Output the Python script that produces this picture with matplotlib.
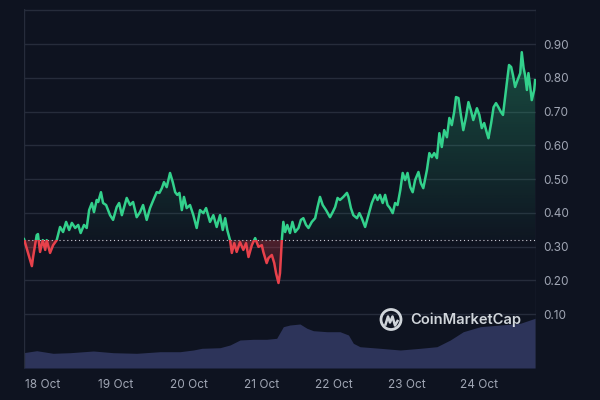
import numpy as np
import matplotlib
matplotlib.use("Agg")
import matplotlib.pyplot as plt
from matplotlib.patches import Rectangle, Circle

# price history (hours after 18 Oct 00:00, price in USD)
hours = [-6.3, -3.7, -3.3, -2.1, -1.7, -1.0, -0.1, 0.7, 1.2, 2.3, 3.3, 4.5, 5.6, 6.6, 7.6, 8.6,
         9.5, 10.6, 11.6, 12.4, 13.5, 14.4, 15.2, 16.1, 16.8, 17.7, 18.2, 19.1, 19.8, 20.8, 22.1,
         23.1, 24.3, 25.1, 26.0, 27.6, 28.7, 29.7, 30.9, 32.0, 33.0, 34.2, 35.3, 36.4, 37.5, 38.4,
         39.2, 39.9, 40.8, 41.9, 42.8, 43.6, 44.3, 45.0, 45.8, 46.5, 47.4, 48.5, 49.6, 50.7, 51.8,
         52.9, 53.8, 55.1, 56.2, 57.3, 58.4, 59.3, 60.1, 60.8, 61.7, 62.3, 63.1, 63.9, 65.0, 66.1,
         67.0, 67.8, 68.9, 70.0, 71.1, 72.2, 72.7, 73.8, 74.4, 75.5, 76.3, 76.9, 77.7, 78.2, 78.8,
         79.3, 79.9, 80.6, 81.5, 82.3, 83.2, 84.3, 85.1, 85.9, 86.8, 87.6, 88.7, 89.8, 90.6, 91.4,
         92.3, 93.4, 94.7, 95.6, 96.4, 97.2, 98.0, 99.1, 100.3, 100.8, 101.6, 102.4, 103.6, 104.4,
         105.2, 106.3, 107.4, 108.5, 109.6, 110.4, 111.2, 112.1, 112.9, 113.7, 114.5, 115.4, 116.2,
         117.0, 117.9, 118.7, 119.5, 120.3, 121.2, 122.0, 122.8, 123.9, 124.7, 125.5, 126.7, 127.5,
         128.3, 129.1, 130.0, 130.8, 131.6, 132.4, 133.3, 134.1, 134.9, 135.7, 136.3, 137.1, 137.9,
         138.7, 139.6, 140.4, 141.2, 142.0, 143.2, 144.0, 144.8, 145.6, 146.5, 147.0, 147.9, 148.7,
         149.5, 150.3, 151.1, 151.8, 152.5, 153.1, 153.8, 154.5, 155.1, 155.8, 156.6, 157.5, 158.0,
         158.6, 159.1, 159.7, 160.2, 160.8, 161.3, 162.1, 162.4]
price = [0.322, 0.242, 0.269, 0.334, 0.337, 0.284, 0.319, 0.290, 0.319, 0.281, 0.304, 0.319,
         0.358, 0.343, 0.373, 0.349, 0.370, 0.355, 0.364, 0.340, 0.364, 0.355, 0.408, 0.429,
         0.402, 0.438, 0.432, 0.461, 0.429, 0.423, 0.393, 0.379, 0.417, 0.429, 0.393, 0.444,
         0.423, 0.432, 0.387, 0.402, 0.423, 0.379, 0.414, 0.438, 0.461, 0.459, 0.473, 0.491,
         0.476, 0.518, 0.491, 0.461, 0.453, 0.459, 0.408, 0.447, 0.414, 0.423, 0.393, 0.355,
         0.408, 0.399, 0.414, 0.373, 0.393, 0.358, 0.393, 0.349, 0.384, 0.349, 0.319, 0.281,
         0.310, 0.284, 0.313, 0.290, 0.310, 0.269, 0.304, 0.325, 0.299, 0.304, 0.284, 0.251,
         0.266, 0.275, 0.251, 0.221, 0.192, 0.221, 0.319, 0.373, 0.343, 0.364, 0.340, 0.373,
         0.343, 0.355, 0.379, 0.384, 0.364, 0.355, 0.373, 0.384, 0.417, 0.447, 0.423, 0.408,
         0.387, 0.402, 0.417, 0.444, 0.438, 0.447, 0.459, 0.447, 0.414, 0.393, 0.384, 0.399,
         0.384, 0.358, 0.393, 0.429, 0.453, 0.438, 0.453, 0.429, 0.453, 0.423, 0.414, 0.399,
         0.429, 0.423, 0.467, 0.518, 0.497, 0.518, 0.476, 0.461, 0.497, 0.521, 0.488, 0.473,
         0.527, 0.577, 0.565, 0.577, 0.562, 0.636, 0.595, 0.645, 0.624, 0.681, 0.660, 0.699,
         0.743, 0.740, 0.690, 0.645, 0.684, 0.728, 0.704, 0.675, 0.710, 0.690, 0.651, 0.666,
         0.636, 0.621, 0.666, 0.713, 0.725, 0.713, 0.699, 0.690, 0.743, 0.787, 0.838, 0.832,
         0.808, 0.773, 0.793, 0.814, 0.876, 0.829, 0.808, 0.764, 0.814, 0.773, 0.734, 0.764,
         0.793]

# volume (arbitrary units)
vol_hours = [-6.5, -2.1, 3.3, 8.9, 16.6, 23.2, 30.9, 38.6, 45.2, 49.6, 52.4, 58.4, 61.7, 65.0,
             69.4, 73.8, 77.1, 79.3, 81.5, 84.8, 87.1, 89.2, 93.7, 98.0, 100.8, 102.4, 104.6,
             111.3, 117.9, 124.5, 130.0, 134.4, 138.7, 144.3, 150.9, 157.5, 162.4]
volume = [15.3, 17.3, 14.7, 15.3, 17.0, 15.3, 14.7, 16.3, 16.3, 18.0, 19.7, 20.3, 23.0, 28.0,
          28.7, 28.7, 29.7, 41.3, 43.0, 44.0, 39.7, 37.3, 36.3, 36.3, 33.0, 24.7, 21.3, 19.7,
          18.0, 19.7, 21.3, 28.0, 36.3, 41.3, 43.0, 44.7, 49.7]

base_price = 0.319
day_ticks = [0, 24, 48, 72, 96, 120, 144]
day_labels = ["18 Oct", "19 Oct", "20 Oct", "21 Oct", "22 Oct", "23 Oct", "24 Oct"]
price_ticks = [0.10, 0.20, 0.30, 0.40, 0.50, 0.60, 0.70, 0.80, 0.90]

bg = "#0e1320"
grid_c = "#262c3b"
green = "#33d18c"
red = "#e8414b"
text_c = "#a0a6b4"

plt.rcParams["font.family"] = ["Inter", "DejaVu Sans"]

fig = plt.figure(figsize=(6, 4), dpi=100, facecolor=bg)
rect = [24 / 600, 32 / 400, 512 / 600, 359 / 400]
axv = fig.add_axes(rect)
ax = fig.add_axes(rect)

x0, x1 = -6.3, 162.7
y0, y1 = -0.06, 1.004

# volume band behind the price
axv.set_facecolor(bg)
axv.fill_between(vol_hours, volume, 0, color="#2d345a", lw=0)
axv.set_xlim(x0, x1)
axv.set_ylim(0, 359)
axv.axis("off")

ax.patch.set_visible(False)
ax.set_xlim(x0, x1)
ax.set_ylim(y0, y1)
for t in price_ticks + [1.0]:
    ax.axhline(t, color=grid_c, lw=1, zorder=0)
ax.axvline(x0, color=grid_c, lw=1, zorder=0)
ax.axvline(x1, color=grid_c, lw=1, zorder=0)

# fills above / below the starting price
fill = ax.fill_between(hours, price, base_price, color="none", lw=0)
clip_path = fill.get_paths()[0]
grad = np.linspace(0, 1, 256).reshape(-1, 1)
im_up = ax.imshow(grad, extent=[x0, x1, base_price, max(price)], origin="lower",
                  cmap=matplotlib.colors.LinearSegmentedColormap.from_list(
                      "g", [(0.2, 0.82, 0.55, 0.02), (0.2, 0.82, 0.55, 0.30)]),
                  aspect="auto", zorder=1)
im_up.set_clip_path(clip_path, transform=ax.transData)
im_dn = ax.imshow(grad, extent=[x0, x1, min(price), base_price], origin="lower",
                  cmap=matplotlib.colors.LinearSegmentedColormap.from_list(
                      "r", [(0.91, 0.25, 0.29, 0.05), (0.91, 0.25, 0.29, 0.30)]),
                  aspect="auto", zorder=1)
im_dn.set_clip_path(clip_path, transform=ax.transData)

up_box = Rectangle((x0, base_price), x1 - x0, 2, transform=ax.transData)
dn_box = Rectangle((x0, -1), x1 - x0, base_price + 1, transform=ax.transData)
ln_up, = ax.plot(hours, price, color=green, lw=1.8, zorder=3, solid_joinstyle="round")
ln_up.set_clip_path(up_box)
ln_dn, = ax.plot(hours, price, color=red, lw=1.8, zorder=3, solid_joinstyle="round")
ln_dn.set_clip_path(dn_box)

ax.axhline(base_price, color="#c8ccd6", lw=0.8, ls=(0, (1, 2.5)), zorder=2)

ax.set_xticks(day_ticks)
ax.set_xticklabels(day_labels)
ax.set_yticks(price_ticks)
ax.set_yticklabels([f"{t:.2f}" for t in price_ticks])
ax.yaxis.tick_right()
ax.tick_params(axis="both", length=0, colors=text_c, labelsize=8.5)
ax.tick_params(axis="x", pad=8)
ax.tick_params(axis="y", pad=5)
for s in ax.spines.values():
    s.set_visible(False)

# watermark
wm = (0.9, 0.92, 0.94, 0.9)
fig.add_artist(Circle((3.91, 0.805), 0.10, transform=fig.dpi_scale_trans,
                      fill=False, ec=wm, lw=2))
lx = [3.855, 3.88, 3.90, 3.925, 3.95, 3.975]
ly = [0.755, 0.835, 0.775, 0.835, 0.745, 0.79]
fig.add_artist(plt.Line2D(lx, ly, transform=fig.dpi_scale_trans, color=wm, lw=1.8))
fig.text(410 / 600, 80 / 400, "CoinMarketCap", color=wm, fontsize=10.6,
         fontweight="semibold", va="center", ha="left")

fig.savefig("out.png", dpi=100, facecolor=bg)
